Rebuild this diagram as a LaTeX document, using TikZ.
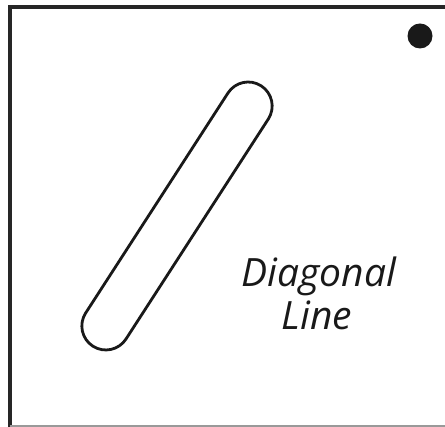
\documentclass[tikz,border=0pt]{standalone}
\usepackage{fontspec}
\newfontfamily\handfont{Open Sans Italic}
\begin{document}
\begin{tikzpicture}[x=1pt,y=1pt,
  frame/.style={draw=black!85, line width=4pt},
  bar/.style={draw=black!90, line width=2.8pt, rounded corners=24pt, minimum width=310pt, minimum height=48pt, inner sep=0pt, rotate=57.1},
  dotmark/.style={circle, fill=black!90, minimum size=25pt, inner sep=0pt},
  lbl/.style={font=\handfont\fontsize{39}{43}\selectfont, text=black!90, inner sep=0pt, anchor=base}]
\useasboundingbox (0,0) rectangle (445,427);
\clip (0,0) rectangle (445,427);
\draw[frame] (9.5,-2) rectangle (460,420);
\draw[black!40, line width=2pt] (9.5,0.5) -- (460,0.5);
\node[bar] (stadium) at (177,211) {};
\node[dotmark] (dot) at (420,391) {};
\node[lbl] (lineone) at (319,140) {Diagonal};
\node[lbl] (linetwo) at (317,97) {Line};
\end{tikzpicture}
\end{document}
